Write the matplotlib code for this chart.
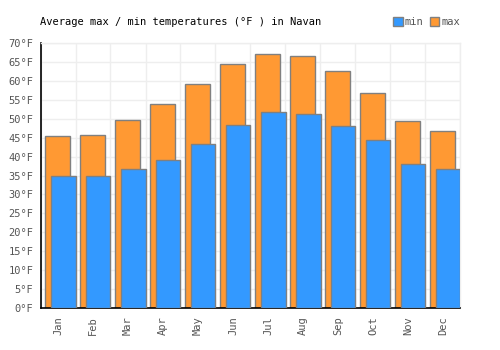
import numpy as np
import matplotlib
matplotlib.use("Agg")
import matplotlib.pyplot as plt
from matplotlib.patches import Patch

months = ["Jan", "Feb", "Mar", "Apr", "May", "Jun", "Jul", "Aug", "Sep", "Oct", "Nov", "Dec"]
tmax = [45.4, 45.6, 49.6, 53.8, 59.1, 64.4, 67.0, 66.5, 62.5, 56.7, 49.3, 46.7]
tmin = [35.0, 35.0, 36.6, 39.0, 43.2, 48.3, 51.7, 51.2, 48.0, 44.3, 38.0, 36.6]

plt.rcParams['font.family'] = 'DejaVu Sans Mono'
plt.rcParams['font.size'] = 7.5

fig = plt.figure(figsize=(5, 3.5), dpi=100)
ax = fig.add_axes([40.5/500, 42/350, 420/500, 265/350])

x = np.arange(len(months))
edge = '#808080'
ax.bar(x - 0.5 + 0.14, tmax, width=0.69, align='edge', color='#ff9933', edgecolor=edge, linewidth=1, zorder=2)
ax.bar(x - 0.5 + 0.29, tmin, width=0.71, align='edge', color='#3399ff', edgecolor=edge, linewidth=1, zorder=3)

ax.set_xlim(-0.5, 11.5)
ax.set_ylim(0, 70)
ax.set_yticks(np.arange(0, 71, 5))
ax.set_yticklabels(["%d°F" % v for v in range(0, 71, 5)], color='#555555')
ax.set_xticks(x)
ax.set_xticklabels(months, rotation=90, color='#555555')
ax.set_xticks(np.arange(-0.5, 12, 1), minor=True)
ax.tick_params(axis='x', which='both', length=0, pad=6)
ax.tick_params(axis='y', length=0, pad=5)

ax.grid(True, axis='y', color='#eeeeee', linewidth=1, zorder=0)
ax.grid(True, axis='x', which='minor', color='#eeeeee', linewidth=1, zorder=0)
ax.set_axisbelow(True)
for s in ['top', 'right']:
    ax.spines[s].set_color('#eeeeee')
    ax.spines[s].set_linewidth(1)
ax.spines['left'].set_color('black')
ax.spines['bottom'].set_color('black')
ax.spines['left'].set_linewidth(1.2)
ax.spines['bottom'].set_linewidth(1.2)

fig.text(40/500, 1 - 22/350, "Average max / min temperatures (°F ) in Navan", ha='left', va='center', fontsize=7.5)

handles = [Patch(facecolor='#3399ff', edgecolor=edge), Patch(facecolor='#ff9933', edgecolor=edge)]
leg = fig.legend(handles, ['min', 'max'], loc='center right', bbox_to_anchor=(460/500, 1 - 22/350), ncol=2,
                 frameon=False, handlelength=0.9, handleheight=0.9, handletextpad=0.2, columnspacing=0.6,
                 borderpad=0, borderaxespad=0)
for t in leg.get_texts():
    t.set_color('#555555')

fig.savefig('out.png', dpi=100)
